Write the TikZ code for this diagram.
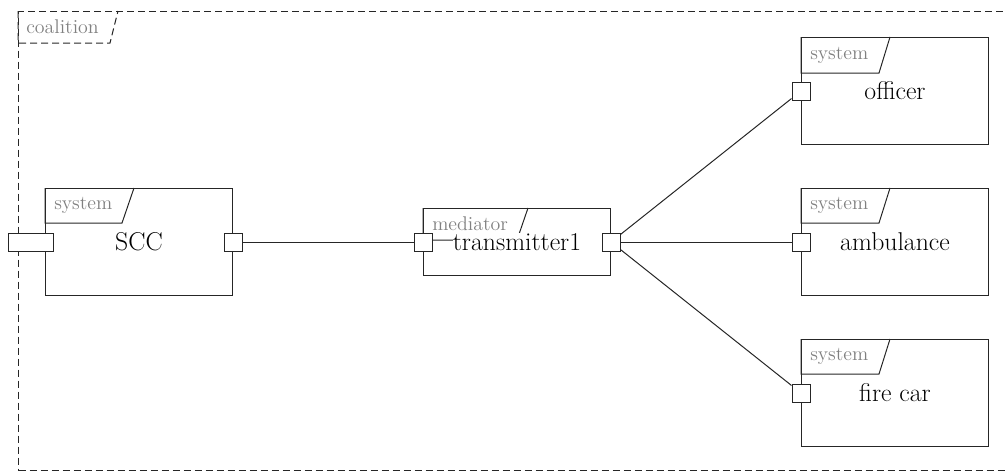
\documentclass[tikz,border=0pt]{standalone}
\usetikzlibrary{calc}
\begin{document}
\begin{tikzpicture}[x=0.75pt,y=-0.75pt,
  frame/.style={draw=black!85, line width=0.75pt, dash pattern=on 5.25pt off 3pt, inner sep=0pt, anchor=north west},
  sysbox/.style={draw=black!85, line width=0.75pt, minimum width=140.25pt, minimum height=80.25pt, inner sep=0pt, anchor=north west},
  medbox/.style={sysbox, minimum height=50.25pt},
  tagline/.style={draw=black!85, line width=0.75pt},
  taglabel/.style={text=black!50, font=\fontsize{14.9pt}{18pt}\selectfont, inner sep=0pt, anchor=west},
  mainlabel/.style={font=\fontsize{19.3pt}{23pt}\selectfont, inner sep=0pt},
  port/.style={draw=black!85, line width=0.75pt, fill=white, minimum size=13.5pt, inner sep=0pt},
  conn/.style={draw=black!85, line width=0.75pt}]
\useasboundingbox (0,0) rectangle (1005,475);
\clip (0,0) rectangle (1005,475);
% coalition frame
\node[frame, minimum width=745.5pt, minimum height=344.25pt] (coal) at (18,11) {};
\draw[tagline, dash pattern=on 5.25pt off 3pt] (coal.north west) -- ++(0,32) -- ++(92,0) -- ($(coal.north west)+(100,0)$);
\node[taglabel] (coalt) at ($(coal.north west)+(8,16)$) {coalition};
% SCC
\node[sysbox] (scc) at (45,188) {};
\draw[tagline] (scc.north west) -- ++(0,35) -- ++(77,0) -- ($(scc.north west)+(89,0)$);
\node[taglabel] (scct) at ($(scc.north west)+(9,17.5)$) {system};
\node[mainlabel] (sccl) at (scc.center) {SCC};
% mediator
\node[medbox] (med) at (423,208) {};
\draw[tagline] (med.north west) -- ++(0,32) -- ++(94,0) -- ($(med.north west)+(105,0)$);
\node[taglabel] (medt) at ($(med.north west)+(9,16)$) {mediator};
\node[mainlabel, fill=white] (medl) at (med.center) {transmitter1};
% officer
\node[sysbox] (off) at (801,37) {};
\draw[tagline] (off.north west) -- ++(0,36) -- ++(78,0) -- ($(off.north west)+(89,0)$);
\node[taglabel] (offt) at ($(off.north west)+(9,18)$) {system};
\node[mainlabel] (offl) at (off.center) {officer};
% ambulance
\node[sysbox] (amb) at (801,188) {};
\draw[tagline] (amb.north west) -- ++(0,35) -- ++(78,0) -- ($(amb.north west)+(89,0)$);
\node[taglabel] (ambt) at ($(amb.north west)+(9,17.5)$) {system};
\node[mainlabel] (ambl) at (amb.center) {ambulance};
% fire car
\node[sysbox] (fire) at (801,339) {};
\draw[tagline] (fire.north west) -- ++(0,35) -- ++(78,0) -- ($(fire.north west)+(89,0)$);
\node[taglabel] (firet) at ($(fire.north west)+(9,17.5)$) {system};
\node[mainlabel] (firel) at (fire.center) {fire car};
% ports
\node[port, minimum width=33.75pt] (sccL) at ($(scc.west)+(-14.5,0)$) {};
\node[port] (sccR) at (scc.east) {};
\node[port] (medL) at (med.west) {};
\node[port] (medR) at (med.east) {};
\node[port] (offP) at (off.west) {};
\node[port] (ambP) at (amb.west) {};
\node[port] (fireP) at (fire.west) {};
% connectors
\draw[conn] (sccR) -- (medL);
\draw[conn] (medR) -- (offP);
\draw[conn] (medR) -- (ambP);
\draw[conn] (medR) -- (fireP);
\end{tikzpicture}
\end{document}
